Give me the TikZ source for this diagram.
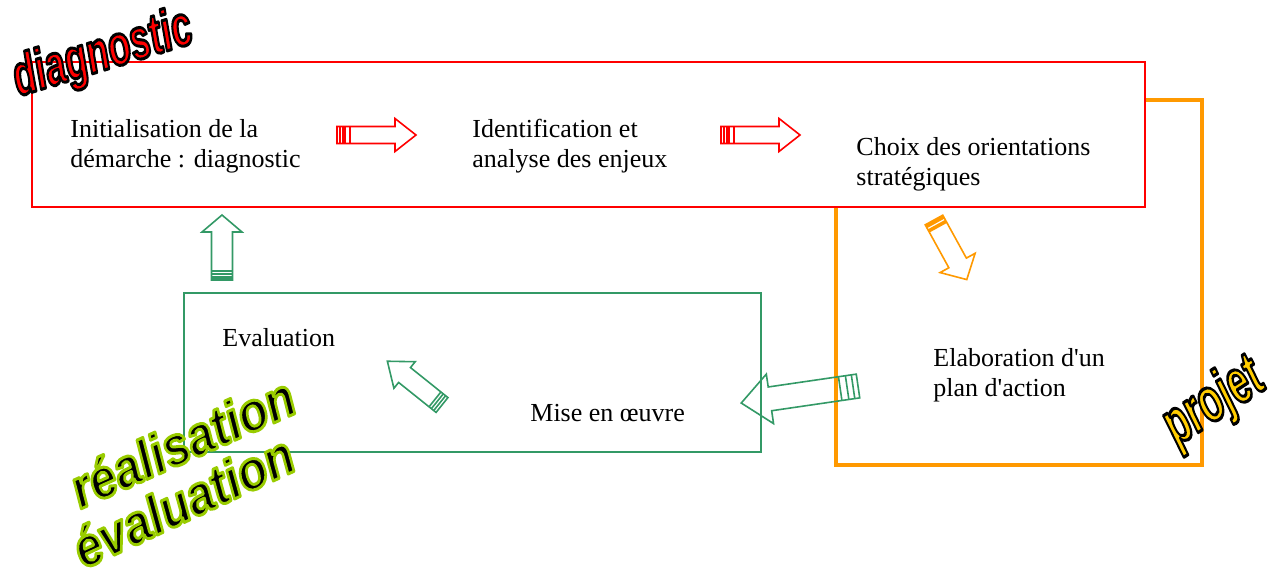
\documentclass[tikz,border=0pt]{standalone}
\usepackage{fontspec}
\setmainfont{Liberation Serif}
\newfontfamily\plainserif{Liberation Serif}
\newfontfamily\wafont{Liberation Sans}
\definecolor{redc}{HTML}{FF0000}
\definecolor{orangec}{HTML}{FF9900}
\definecolor{greenc}{HTML}{339966}
\definecolor{yellowc}{HTML}{FFCC00}
\definecolor{limec}{HTML}{99CC00}
\newcommand\blkarrow[8]{%
  \begin{scope}[shift={#2}, rotate=#3, draw=#1, line width=0.8pt, line join=miter]
    \draw (0,-#5) -- ({#4-#7},-#5) -- ({#4-#7},-#6) -- (#4,0) -- ({#4-#7},#6) -- ({#4-#7},#5) -- (0,#5) -- cycle;
    \foreach \sx in {#8} \draw (\sx,-#5) -- (\sx,#5);
  \end{scope}}
% fill colour (rgb), stroke colour (rgb), stroke width, text
\newcommand\outlined[4]{%
  \special{pdf:code q 2 Tr #3 w 1 j #1 rg #2 RG}#4\special{pdf:code Q}}
\tikzset{
  txt/.style={font=\plainserif\fontsize{13}{15}\selectfont, align=left, inner sep=0pt, anchor=west},
  wa/.style={inner sep=0pt, font=\wafont\bfseries\itshape}
}
\begin{document}
\begin{tikzpicture}[x=0.5pt, y=-0.5pt]
  \useasboundingbox (0,0) rectangle (1285,574);
  % boxes
  \draw[orangec, line width=2pt] (836,100) rectangle (1202,465);
  \draw[redc, line width=0.8pt, fill=white] (32,62) rectangle (1145,207);
  \draw[greenc, line width=0.8pt] (184,293) rectangle (761,452);
  % texts
  \node[txt] (init) at (70,146) {Initialisation de la\\démarche : diagnostic};
  \node[txt] (ident) at (472,146) {Identification et\\analyse des enjeux};
  \node[txt] (choix) at (856,164) {Choix des orientations\\stratégiques};
  \node[txt] (elab) at (933,375) {Elaboration d'un\\plan d'action};
  \node[txt] (eval) at (222,338) {Evaluation};
  \node[txt] (mise) at (530,413) {Mise en œuvre};
  % block arrows
  \blkarrow{redc}{(337,135)}{0}{79}{8.5}{16.5}{21}{3,6,8,13}
  \blkarrow{redc}{(721,135)}{0}{79}{8.5}{16.5}{21}{3,6,8,13}
  \blkarrow{orangec}{(934,220)}{-61.2}{68}{10}{20}{19}{1,2,3,6,7,8}
  \blkarrow{greenc}{(222,280)}{90}{65}{10.5}{20}{17}{1,2,3,6,9}
  \blkarrow{greenc}{(858,386)}{-171.7}{118}{12}{25}{29}{5,11,18}
  \blkarrow{greenc}{(442,405)}{141.3}{70}{9.5}{17}{22}{3,6,9}
  % word art
  \node[wa, rotate=17] (wdiag) at (103,55) {\fontsize{18.5}{18.5}\selectfont\scalebox{1}[1.55]{\outlined{1 0 0}{0 0 0}{1.0}{diagnostic}}};
  \node[wa, rotate=24] (wreal) at (182,442) {\fontsize{24}{24}\selectfont\scalebox{1}[1.15]{\outlined{0 0 0}{0.6 0.8 0}{1.3}{réalisation}}};
  \node[wa, rotate=25] (weval) at (183,501) {\fontsize{24}{24}\selectfont\scalebox{1}[1.15]{\outlined{0 0 0}{0.6 0.8 0}{1.3}{évaluation}}};
  \node[wa, rotate=33] (wproj) at (1214,403) {\fontsize{19.5}{19.5}\selectfont\scalebox{1}[1.6]{\outlined{1 0.8 0}{0 0 0}{1.0}{projet}}};
\end{tikzpicture}
\end{document}
